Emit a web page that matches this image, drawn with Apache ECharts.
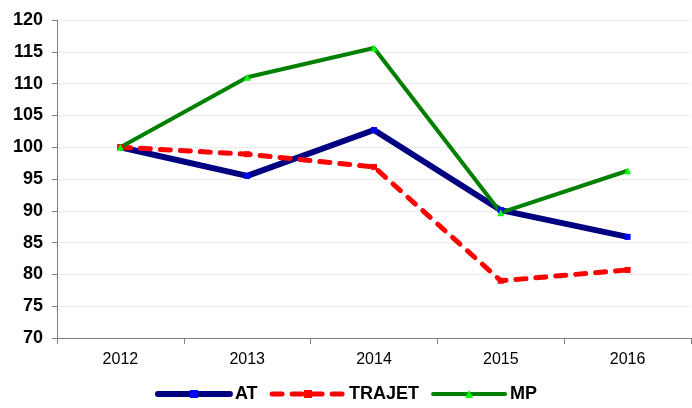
<!DOCTYPE html>
<html>
<head>
<meta charset="utf-8">
<script src="https://cdn.jsdelivr.net/npm/echarts@6/dist/echarts.min.js"></script>
<style>
  html, body { margin: 0; padding: 0; background: #fff; }
  #chart { width: 692px; height: 408px; }
</style>
</head>
<body>
<div id="chart"></div>
<script>
// données
const years = ['2012', '2013', '2014', '2015', '2016']
const atValues = [100, 95.5, 102.7, 90.1, 85.9]
const trajetValues = [100, 98.9, 96.9, 79.0, 80.7]
const mpValues = [100, 111.0, 115.6, 89.7, 96.3]

const chart = echarts.init(document.getElementById('chart'))

chart.setOption({
  animation: false,
  grid: { left: 57, right: 1, top: 20, bottom: 70 },
  legend: {
    bottom: 0,
    left: 'center',
    itemWidth: 72,
    itemHeight: 10,
    itemGap: 12,
    textStyle: { fontFamily: 'Liberation Sans', fontWeight: 'bold', fontSize: 18, color: '#000' },
    data: [
      { name: 'AT', lineStyle: { width: 6, cap: 'round' } },
      { name: 'TRAJET', lineStyle: { width: 5, cap: 'round' } },
      { name: 'MP', lineStyle: { width: 4, cap: 'round' } }
    ]
  },
  xAxis: {
    type: 'category',
    data: years,
    boundaryGap: true,
    axisLine: { lineStyle: { color: '#808080', width: 1 } },
    axisTick: { show: true, length: 6, lineStyle: { color: '#808080' } },
    axisLabel: { fontFamily: 'Liberation Sans', fontSize: 16, color: '#000', margin: 14 }
  },
  yAxis: {
    type: 'value',
    min: 70,
    max: 120,
    interval: 5,
    axisLine: { show: true, lineStyle: { color: '#808080', width: 1 } },
    axisTick: { show: true, length: 5, lineStyle: { color: '#808080' } },
    axisLabel: { fontFamily: 'Liberation Sans', fontWeight: 'bold', fontSize: 18, color: '#000', margin: 14 },
    splitLine: { lineStyle: { color: '#dcdcdc', type: 'dotted' } }
  },
  series: [
    {
      name: 'AT',
      type: 'line',
      data: atValues,
      symbol: 'rect',
      symbolSize: 6,
      itemStyle: { color: '#0000ff' },
      lineStyle: { color: '#000080', width: 6 }
    },
    {
      name: 'TRAJET',
      type: 'line',
      data: trajetValues,
      symbol: 'rect',
      symbolSize: 6,
      itemStyle: { color: '#ff0000' },
      lineStyle: { color: '#ff0000', width: 5, type: [10, 10], cap: 'round' }
    },
    {
      name: 'MP',
      type: 'line',
      data: mpValues,
      symbol: 'triangle',
      symbolSize: 7,
      itemStyle: { color: '#00ff00' },
      lineStyle: { color: '#008000', width: 4 }
    }
  ]
})
</script>
</body>
</html>
